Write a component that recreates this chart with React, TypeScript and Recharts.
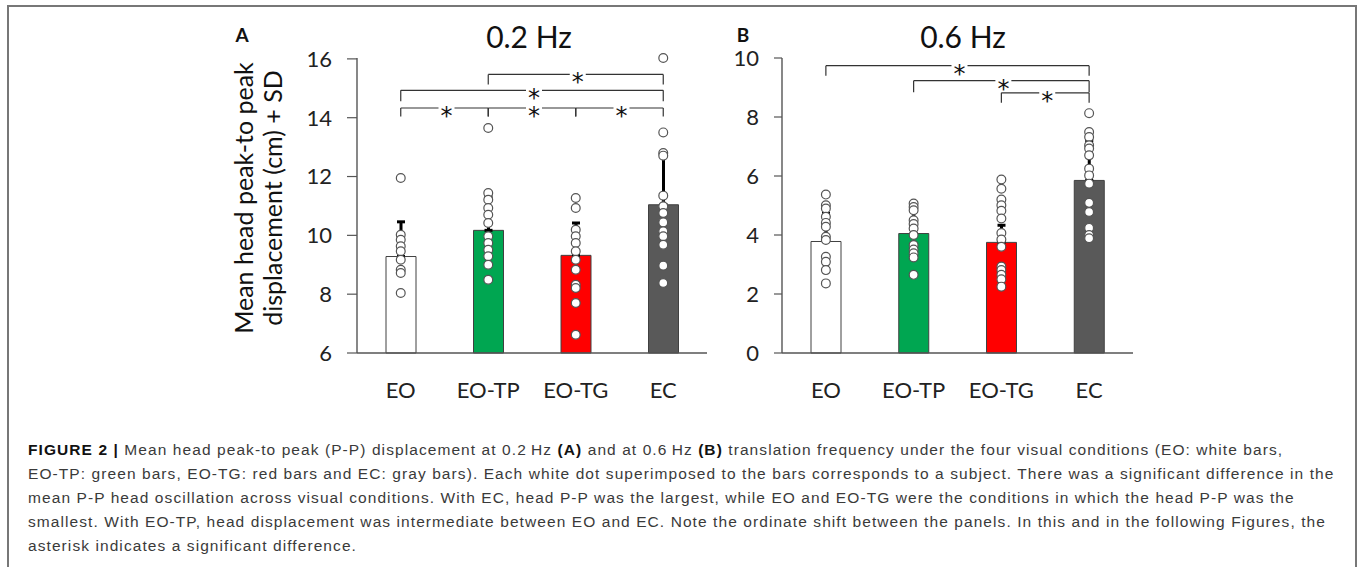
import React from 'react';
import {
  ComposedChart,
  Bar,
  Cell,
  ErrorBar,
  Scatter,
  XAxis,
  YAxis,
  ReferenceLine
} from 'recharts';

const categories = ['EO', 'EO-TP', 'EO-TG', 'EC'];
const barColors = ['#ffffff', '#00a651', '#ff0000', '#595959'];

// panel A, 0.2 Hz
const meanA = [9.28, 10.17, 9.32, 11.04];
const sdA = [1.18, 1.14, 1.1, 1.74];
const dotsA_EO = [11.95, 10.02, 9.85, 9.63, 9.46, 9.17, 8.83, 8.72, 8.04];
const dotsA_EOTP = [13.65, 11.44, 11.21, 10.93, 10.7, 10.42, 9.97, 9.74, 9.51, 9.29, 9.0, 8.49];
const dotsA_EOTG = [11.27, 10.93, 10.19, 9.97, 9.74, 9.46, 9.17, 8.83, 8.32, 8.21, 7.7, 6.62];
const dotsA_EC = [16.03, 13.5, 12.8, 12.71, 11.35, 10.99, 10.76, 10.44, 10.14, 9.97, 9.68, 8.97, 8.38];
const ticksA = [6, 8, 10, 12, 14, 16];

// panel B, 0.6 Hz
const meanB = [3.78, 4.05, 3.75, 5.85];
const sdB = [0.95, 0.77, 0.58, 1.35];
const dotsB_EO = [5.37, 5.01, 4.9, 4.62, 4.41, 4.28, 3.94, 3.83, 3.26, 3.09, 2.81, 2.36];
const dotsB_EOTP = [5.07, 4.95, 4.84, 4.5, 4.37, 4.22, 4.0, 3.66, 3.51, 3.38, 3.24, 2.65];
const dotsB_EOTG = [5.88, 5.57, 5.2, 5.01, 4.82, 4.56, 4.07, 3.85, 3.6, 2.93, 2.81, 2.65, 2.5, 2.25];
const dotsB_EC = [8.13, 7.49, 7.32, 7.04, 6.93, 6.7, 6.25, 6.02, 5.74, 5.09, 4.78, 4.24, 4.0, 3.89];
const ticksB = [0, 2, 4, 6, 8, 10];

// significance brackets: from, to, bar level, leg end
const bracketsA: [string, string, number, number][] = [
  ['EO-TP', 'EC', 15.47, 15.13],
  ['EO', 'EC', 14.93, 14.56],
  ['EO', 'EO-TP', 14.33, 14.04],
  ['EO-TP', 'EO-TG', 14.33, 14.04],
  ['EO-TG', 'EC', 14.33, 14.04]
];
const bracketsB: [string, string, number, number][] = [
  ['EO', 'EC', 9.74, 9.4],
  ['EO-TP', 'EC', 9.23, 8.84],
  ['EO-TG', 'EC', 8.82, 8.48]
];

const FONT = 'Lato, "Open Sans", sans-serif';
const AXIS = '#555';

const Dot = (props: any) => {
  const { cx, cy } = props;
  if (cx == null || cy == null) return null;
  return <circle cx={cx} cy={cy} r={4.4} fill="#fff" stroke="#555" strokeWidth={1.2} />;
};

const Star = (props: any) => {
  const vb = props.viewBox || {};
  const cx = vb.x + vb.width / 2 + 2;
  const y = vb.y;
  return (
    <g>
      <rect x={cx - 8} y={y - 3} width={16} height={6} fill="#fff" />
      <text x={cx} y={y + 16} textAnchor="middle" fontSize={24} fontFamily='"DejaVu Sans", sans-serif' fill="#111">*</text>
    </g>
  );
};

function Panel({ means, sds, dots, ticks, brackets, width, yWidth, right, tickSize }: any) {
  const barData = categories.map((c, i) => ({ cat: c, mean: means[i], err: [0, sds[i]] }));
  const dotData = categories.flatMap((c, i) => dots[i].map((v: number) => ({ cat: c, v })));
  const lines: any[] = [];
  brackets.forEach(([from, to, y, leg]: [string, string, number, number], i: number) => {
    lines.push(
      <ReferenceLine key={'h' + i} segment={[{ x: from, y }, { x: to, y }]} stroke="#333" strokeWidth={1.2} label={Star} />
    );
    lines.push(
      <ReferenceLine key={'l' + i} segment={[{ x: from, y }, { x: from, y: leg }]} stroke="#333" strokeWidth={1.2} />
    );
    lines.push(
      <ReferenceLine key={'r' + i} segment={[{ x: to, y }, { x: to, y: leg }]} stroke="#333" strokeWidth={1.2} />
    );
  });
  return (
    <ComposedChart width={width} height={420} data={barData} margin={{ top: 58, right, bottom: 0, left: 0 }}>
      <XAxis
        dataKey="cat"
        type="category"
        allowDuplicatedCategory={false}
        interval={0}
        height={67}
        tickLine={false}
        tickSize={0}
        tickMargin={29}
        axisLine={{ stroke: AXIS, strokeWidth: 1.4 }}
        tick={{ fontSize: 22, fill: '#222', fontFamily: FONT }}
      />
      <YAxis
        type="number"
        domain={[ticks[0], ticks[ticks.length - 1]]}
        ticks={ticks}
        width={yWidth}
        tickSize={tickSize}
        tickMargin={15}
        axisLine={{ stroke: AXIS, strokeWidth: 1.4 }}
        tickLine={{ stroke: AXIS, strokeWidth: 1.2 }}
        tick={{ fontSize: 22, fill: '#222', fontFamily: FONT }}
      />
      <Bar dataKey="mean" barSize={30} stroke="#404040" strokeWidth={1} isAnimationActive={false}>
        {barData.map((d, i) => (
          <Cell key={d.cat} fill={barColors[i]} />
        ))}
        <ErrorBar dataKey="err" direction="y" width={4} stroke="#000" strokeWidth={3} isAnimationActive={false} />
      </Bar>
      <Scatter data={dotData} dataKey="v" shape={Dot} isAnimationActive={false} />
      {lines}
    </ComposedChart>
  );
}

const captionStyle: React.CSSProperties = {
  position: 'absolute',
  left: 28,
  whiteSpace: 'nowrap',
  fontFamily: '"Liberation Sans", Arial, sans-serif',
  fontSize: 15.5,
  letterSpacing: '1.08px',
  lineHeight: '24px',
  color: '#3a3a3a'
};

export default function App() {
  return (
    <div style={{ position: 'absolute', left: 0, top: 0, width: 1357, height: 567, background: '#fff', overflow: 'hidden' }}>
      <div
        style={{
          position: 'absolute',
          left: 7,
          top: 5,
          width: 1350,
          height: 620,
          boxSizing: 'border-box',
          border: '2px solid #777'
        }}
      />
      <div style={{ position: 'absolute', left: 0, top: 0 }}>
        <Panel
          means={meanA}
          sds={sdA}
          dots={[dotsA_EO, dotsA_EOTP, dotsA_EOTG, dotsA_EC]}
          ticks={ticksA}
          brackets={bracketsA}
          width={720}
          yWidth={357}
          right={13}
          tickSize={10}
        />
      </div>
      <div style={{ position: 'absolute', left: 720, top: 0 }}>
        <Panel
          means={meanB}
          sds={sdB}
          dots={[dotsB_EO, dotsB_EOTP, dotsB_EOTG, dotsB_EC]}
          ticks={ticksB}
          brackets={bracketsB}
          width={637}
          yWidth={62}
          right={224}
          tickSize={8}
        />
      </div>
      <svg width={1357} height={420} style={{ position: 'absolute', left: 0, top: 0, pointerEvents: 'none' }}>
        <text x={242} y={42} textAnchor="middle" fontSize={19} fontWeight="bold" fontFamily={FONT} fill="#111">A</text>
        <text x={743} y={42} textAnchor="middle" fontSize={19} fontWeight="bold" fontFamily={FONT} fill="#111">B</text>
        <text x={529} y={48} textAnchor="middle" fontSize={30} fontFamily={FONT} fill="#111">0.2 Hz</text>
        <text x={963} y={48} textAnchor="middle" fontSize={30} fontFamily={FONT} fill="#111">0.6 Hz</text>
        <text transform="rotate(-90, 253, 198)" x={253} y={198} textAnchor="middle" fontSize={25} fontFamily={FONT} fill="#111">
          <tspan x={253} dy={0}>Mean head peak-to peak</tspan>
          <tspan x={253} dy={29}>displacement (cm) + SD</tspan>
        </text>
      </svg>
      <div style={{ ...captionStyle, top: 438 }}>
        <b style={{ color: '#111' }}>FIGURE 2 |</b> Mean head peak-to peak (P-P) displacement at 0.2{'\u2009'}Hz <b style={{ color: '#111' }}>(A)</b> and at 0.6{'\u2009'}Hz <b style={{ color: '#111' }}>(B)</b> translation frequency under the four visual conditions (EO: white bars,
      </div>
      <div style={{ ...captionStyle, top: 462 }}>
        EO-TP: green bars, EO-TG: red bars and EC: gray bars). Each white dot superimposed to the bars corresponds to a subject. There was a significant difference in the
      </div>
      <div style={{ ...captionStyle, top: 486 }}>
        mean P-P head oscillation across visual conditions. With EC, head P-P was the largest, while EO and EO-TG were the conditions in which the head P-P was the
      </div>
      <div style={{ ...captionStyle, top: 510 }}>
        smallest. With EO-TP, head displacement was intermediate between EO and EC. Note the ordinate shift between the panels. In this and in the following Figures, the
      </div>
      <div style={{ ...captionStyle, top: 534 }}>
        asterisk indicates a significant difference.
      </div>
    </div>
  );
}
